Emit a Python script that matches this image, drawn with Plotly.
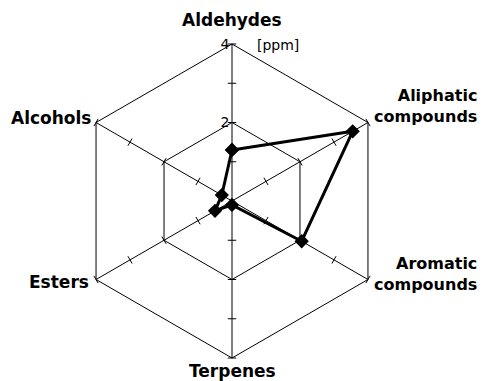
import plotly.graph_objects as go

categories = ["Aldehydes", "Aliphatic compounds", "Aromatic compounds", "Terpenes", "Esters", "Alcohols"]
values = [1.3, 3.55, 2.05, 0.1, 0.5, 0.3]
grid_vals = [2, 4]
tick_marks = [1, 2, 3, 4]
unit = "[ppm]"

W, H = 487, 381
OFF = 8  # page body margin shifts the figure
cx, cy, R = 232, 201, 157
FONT = "DejaVu Sans, Liberation Sans, Arial"


def px(x):
    return (x - OFF) / W


def py(y):
    return 1 - (y - OFF) / H


fig = go.Figure()

# small tick marks on every spoke, perpendicular to the spoke
for i, cat in enumerate(categories):
    fig.add_trace(go.Scatterpolar(
        r=tick_marks, theta=[cat] * len(tick_marks), mode="markers",
        marker=dict(symbol="line-ew", size=6, angle=60 * i, line=dict(color="black", width=1)),
        showlegend=False, hoverinfo="skip",
    ))

fig.add_trace(go.Scatterpolar(
    r=values + values[:1], theta=categories + categories[:1],
    mode="lines+markers",
    line=dict(color="black", width=3),
    marker=dict(symbol="diamond", size=11, color="black"),
    showlegend=False,
))

label_pos = [
    (232, 20, "center", "Aldehydes", 17),
    (479, 106, "right", "Aliphatic<br>compounds", 16),
    (479, 274, "right", "Aromatic<br>compounds", 16),
    (232, 371, "center", "Terpenes", 17),
    (91, 282, "right", "Esters", 17),
    (93, 118, "right", "Alcohols", 17),
]
annotations = []
for (x, y, anchor, txt, size) in label_pos:
    annotations.append(dict(
        x=px(x), y=py(y), xref="paper", yref="paper", text="<b>%s</b>" % txt,
        xanchor=anchor, yanchor="middle", align=anchor, showarrow=False,
        font=dict(family=FONT, size=size, color="black"),
    ))
annotations.append(dict(
    x=px(255), y=py(45), xref="paper", yref="paper", text=unit,
    xanchor="left", yanchor="middle", showarrow=False,
    font=dict(family=FONT, size=14, color="black"),
))

fig.update_layout(
    width=W, height=H,
    margin=dict(l=0, r=0, t=0, b=0),
    paper_bgcolor="white",
    polar=dict(
        domain=dict(x=[px(cx - R), px(cx + R)], y=[py(cy + R), py(cy - R)]),
        bgcolor="white",
        gridshape="linear",
        radialaxis=dict(
            range=[0, 4], tickvals=grid_vals, angle=90, side="counterclockwise", tickangle=90,
            showline=False, ticks="", showgrid=True, gridcolor="black", gridwidth=1,
            tickfont=dict(family=FONT, size=14, color="black"),
        ),
        angularaxis=dict(
            direction="clockwise", rotation=90, showline=True, linecolor="black", linewidth=1,
            showgrid=True, gridcolor="black", gridwidth=1, showticklabels=False, ticks="",
        ),
    ),
    annotations=annotations,
)

fig.write_html("out.html")
